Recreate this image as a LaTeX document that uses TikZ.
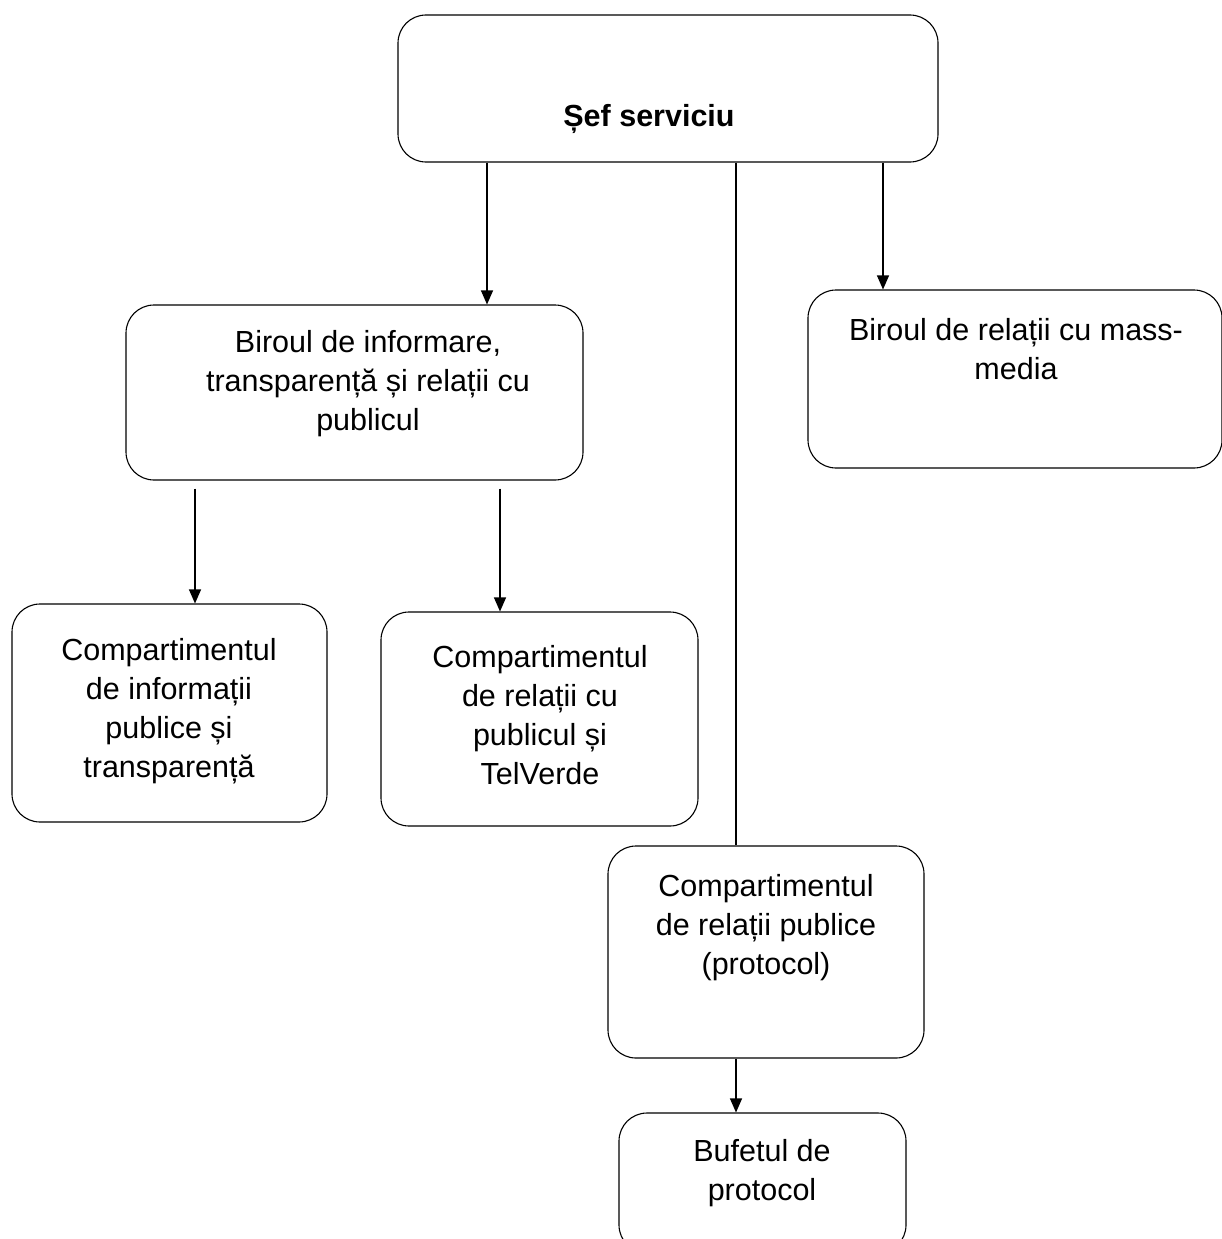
\documentclass[tikz,border=0pt]{standalone}
\usepackage{fontspec}
\setmainfont{Liberation Sans}
\usetikzlibrary{arrows.meta}
\newcommand{\txtfont}{\fontsize{30.5}{39}\selectfont}
\tikzset{
  box/.style={draw, line width=1.1pt, rounded corners=28pt, inner sep=0pt},
  txt/.style={align=center, font=\txtfont, inner sep=0pt},
  arr/.style={line width=1.1pt, -{Triangle[width=12pt,length=14pt]}},
  plain/.style={line width=1.1pt}
}
\begin{document}
\begin{tikzpicture}[x=1pt,y=-1pt]
\useasboundingbox (0,0) rectangle (1221,1239);
% boxes
\node[box, minimum width=540pt, minimum height=147pt] (sef) at (668,88.5) {};
\node[txt, font=\txtfont\bfseries] (sefT) at (649,119) {Șef serviciu};
\node[box, minimum width=457pt, minimum height=175pt] (bir) at (354.5,392.5) {};
\node[txt] (birT) at (368,384) {Biroul de informare,\\transparență și relații cu\\publicul};
\node[box, minimum width=414pt, minimum height=178pt] (mm) at (1015,379) {};
\node[txt] (mmT) at (1016,349) {Biroul de relații cu mass-\\media};
\node[box, minimum width=315pt, minimum height=218pt] (cip) at (169.5,713) {};
\node[txt] (cipT) at (169,711) {Compartimentul\\de informații\\publice și\\transparență};
\node[box, minimum width=317pt, minimum height=214pt] (crp) at (539.5,719) {};
\node[txt] (crpT) at (540,715) {Compartimentul\\de relații cu\\publicul și\\TelVerde};
\node[box, minimum width=316pt, minimum height=212pt] (cpp) at (766,952) {};
\node[txt] (cppT) at (766,928) {Compartimentul\\de relații publice\\(protocol)};
\node[box, minimum width=287pt, minimum height=140pt] (buf) at (762.5,1183) {};
\node[txt] (bufT) at (762,1173) {Bufetul de\\protocol};
% connector x positions
\coordinate (x1) at (487,0);
\coordinate (x2) at (736,0);
\coordinate (x3) at (883,0);
\coordinate (x4) at (195,0);
\coordinate (x5) at (500,0);
% connectors
\draw[arr] (sef.south -| x1) -- (bir.north -| x1);
\draw[plain] (sef.south -| x2) -- (cpp.north -| x2);
\draw[arr] (sef.south -| x3) -- (mm.north -| x3);
\draw[arr, shorten <=8pt] (bir.south -| x4) -- (cip.north -| x4);
\draw[arr, shorten <=8pt] (bir.south -| x5) -- (crp.north -| x5);
\draw[arr] (cpp.south -| x2) -- (buf.north -| x2);
\end{tikzpicture}
\end{document}
